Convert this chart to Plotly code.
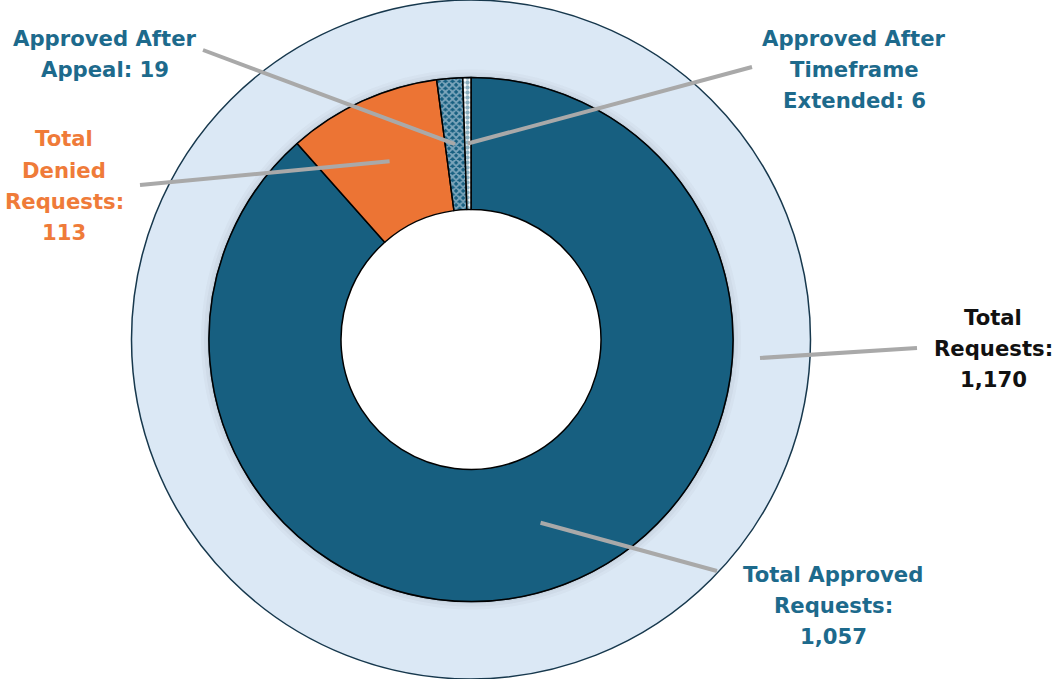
import math
import plotly.graph_objects as go

# ---- data ----
inner_labels = ["Total Approved Requests", "Total Denied Requests",
                "Approved After Appeal", "Approved After Timeframe Extended"]
inner_values = [1057, 113, 19, 6]
outer_labels = ["Total Requests"]
outer_values = [1170]

label_lines = {
    "Approved After Appeal": ["Approved After", "Appeal: 19"],
    "Total Denied Requests": ["Total", "Denied", "Requests:", "113"],
    "Approved After Timeframe Extended": ["Approved After", "Timeframe", "Extended: 6"],
    "Total Requests": ["Total", "Requests:", "1,170"],
    "Total Approved Requests": ["Total Approved", "Requests:", "1,057"],
}

# ---- styling ----
W, H = 1056, 679
DARK = "#175f80"
ORANGE = "#ec7434"
LIGHT = "#dbe8f5"
TEXT_BLUE = "#1d6a8c"
TEXT_ORANGE = "#ef7b39"
LEADER = "#a9a9a9"

cx, cy = 471, 339.5          # chart centre in px (from top)
R_OUT = 339.5
R_IN = 262
R_HOLE = 130

def px_dom(r):
    return dict(x=[(cx - r) / W, (cx + r) / W],
                y=[max(0, (H - cy - r) / H), min(1, (H - cy + r) / H)])

fig = go.Figure()

# outer ring
fig.add_trace(go.Pie(
    labels=outer_labels, values=outer_values, hole=R_IN / R_OUT,
    domain=px_dom(R_OUT), sort=False, direction="clockwise",
    marker=dict(colors=[LIGHT], line=dict(color="#17384d", width=1.5)),
    textinfo="none", hoverinfo="label+value", showlegend=False))

# soft shadow around inner donut
for k, a in [(8, 0.03), (5, 0.04), (2, 0.06)]:
    fig.add_trace(go.Pie(
        labels=["s"], values=[1], hole=(R_IN - 4) / (R_IN + k),
        domain=px_dom(R_IN + k), marker=dict(colors=[f"rgba(60,60,70,{a})"], line=dict(width=0)),
        textinfo="none", hoverinfo="skip", showlegend=False))

# inner donut
fig.add_trace(go.Pie(
    labels=inner_labels, values=inner_values, hole=R_HOLE / R_IN,
    domain=px_dom(R_IN), sort=False, direction="clockwise", rotation=0,
    marker=dict(colors=[DARK, ORANGE, DARK, "#ffffff"],
                line=dict(color="#000000", width=1.5),
                pattern=dict(shape=["", "", "x", "."],
                             fgcolor=[DARK, ORANGE, "#e3edf7", DARK],
                             fillmode="overlay", size=5, solidity=0.6)),
    textinfo="none", hoverinfo="label+value", showlegend=False))

# ---- leader lines (start at slice mid-angle, mid-radius) ----
total = sum(inner_values)
cum = 0
mids = []
for v in inner_values:
    mids.append((cum + v / 2) / total * 2 * math.pi)
    cum += v
r_mid = (R_IN + R_HOLE) / 2

def pt(angle, r):
    return cx + r * math.sin(angle), cy - r * math.cos(angle)

ends = [(717, 571), (140, 185), (203, 50), (752, 67)]
segs = []
for ang, (ex, ey) in zip(mids, ends):
    sx, sy = pt(ang, r_mid)
    segs.append((sx, sy, ex, ey))
segs.append((760, 358, 917, 348))  # total requests

shapes = []
for sx, sy, ex, ey in segs:
    shapes.append(dict(type="line", xref="paper", yref="paper",
                       x0=sx / W, y0=1 - sy / H, x1=ex / W, y1=1 - ey / H,
                       line=dict(color=LEADER, width=4)))

FONT = "DejaVu Sans"
FS = 21.2
LINE_GAP = 31.3
label_pos = {
    "Approved After Appeal": (105, 36, TEXT_BLUE),
    "Total Denied Requests": (64, 137, TEXT_ORANGE),
    "Approved After Timeframe Extended": (854, 36, TEXT_BLUE),
    "Total Requests": (993, 315, "#111111"),
    "Total Approved Requests": (833, 572, TEXT_BLUE),
}
annotations = []
for key, lines in label_lines.items():
    x, y0, col = label_pos[key]
    for i, line in enumerate(lines):
        y = y0 + i * LINE_GAP + 2
        annotations.append(dict(
            text=f"<b>{line}</b>", x=x / W, y=1 - y / H, xref="paper", yref="paper",
            showarrow=False, xanchor="center", yanchor="middle", align="center",
            font=dict(family=FONT, size=FS, color=col)))

fig.update_layout(width=W, height=H, margin=dict(l=0, r=0, t=0, b=0),
                  paper_bgcolor="white", plot_bgcolor="white",
                  shapes=shapes, annotations=annotations, showlegend=False)

fig.write_html("out.html", config={"displayModeBar": False},
               post_script="document.body.style.margin='0px';")
